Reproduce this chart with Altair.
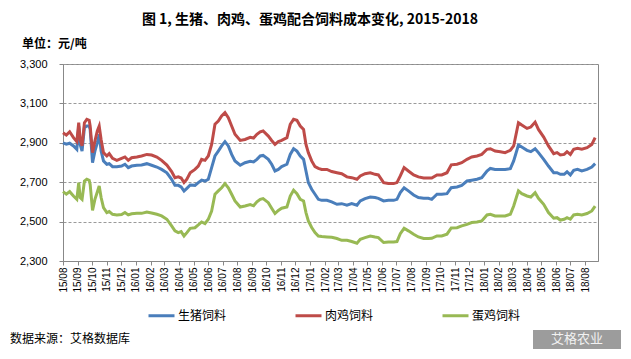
import altair as alt
import pandas as pd

title_text = "图 1, 生猪、肉鸡、蛋鸡配合饲料成本变化, 2015-2018"
unit_text = "单位：元/吨"
source_text = "数据来源：艾格数据库"
logo_text = "艾格农业"
series_names = ["生猪饲料", "肉鸡饲料", "蛋鸡饲料"]
series_colors = ["#4A7EBB", "#BE4B48", "#98B954"]
start_date = "2015-08-01"
y_ticks = [2300, 2500, 2700, 2900, 3100, 3300]

# days since 2015-08-01 (roughly weekly observations)
day_offsets = [
    0, 7, 14, 22, 29, 33, 36, 40, 45, 50,
    55, 57, 62, 67, 72, 76, 80, 85, 92, 97,
    104, 113, 123, 130, 137, 144, 155, 165, 176, 186,
    197, 207, 218, 228, 235, 242, 248, 254, 260, 267,
    277, 284, 291, 298, 305, 312, 319, 326, 333, 340,
    347, 354, 361, 372, 382, 393, 400, 407, 414, 420,
    431, 438, 445, 452, 459, 470, 477, 484, 491, 498,
    505, 510, 515, 522, 529, 536, 543, 554, 564, 575,
    585, 596, 606, 617, 624, 634, 645, 655, 662, 673,
    683, 694, 701, 708, 716, 725, 736, 746, 757, 767,
    774, 785, 795, 806, 815, 827, 837, 848, 858, 869,
    879, 890, 897, 907, 918, 928, 939, 946, 956, 963,
    974, 982, 991, 998, 1009, 1019, 1030, 1037, 1044, 1052,
    1058, 1065, 1072, 1080, 1089, 1100, 1110, 1117,
]

hog_feed = [
    2900, 2893, 2898, 2884, 2867, 2985, 2892, 2858, 2977, 2985,
    2985, 2968, 2799, 2858, 2900, 2943, 2858, 2808, 2791, 2794,
    2779, 2779, 2782, 2791, 2774, 2782, 2786, 2787, 2794, 2786,
    2777, 2765, 2748, 2715, 2684, 2684, 2676, 2655, 2669, 2686,
    2684, 2698, 2711, 2706, 2715, 2774, 2833, 2858, 2884, 2906,
    2884, 2841, 2808, 2786, 2799, 2806, 2803, 2816, 2833, 2836,
    2816, 2791, 2757, 2765, 2779, 2791, 2841, 2870, 2858, 2833,
    2816, 2757, 2698, 2664, 2639, 2613, 2608, 2608, 2600, 2588,
    2591, 2583, 2591, 2583, 2605, 2617, 2625, 2622, 2618, 2605,
    2608, 2608, 2613, 2647, 2672, 2656, 2635, 2622, 2618, 2618,
    2613, 2639, 2639, 2642, 2672, 2676, 2684, 2706, 2710, 2715,
    2723, 2757, 2770, 2765, 2765, 2765, 2769, 2808, 2889, 2879,
    2862, 2855, 2870, 2850, 2816, 2782, 2748, 2748, 2740, 2740,
    2753, 2737, 2760, 2765, 2757, 2765, 2777, 2794,
]

broiler_feed = [
    2951, 2939, 2956, 2926, 2906, 3002, 2917, 2884, 3002, 3019,
    3014, 2985, 2850, 2909, 2960, 2985, 2917, 2850, 2833, 2845,
    2821, 2811, 2821, 2828, 2811, 2824, 2828, 2833, 2841, 2838,
    2828, 2811, 2787, 2754, 2723, 2727, 2721, 2698, 2715, 2748,
    2765, 2782, 2816, 2811, 2833, 2892, 2994, 3010, 3036, 3053,
    3027, 2985, 2943, 2912, 2917, 2928, 2924, 2943, 2956, 2960,
    2934, 2912, 2892, 2906, 2912, 2926, 2994, 3019, 3014, 2985,
    2968, 2892, 2850, 2808, 2779, 2770, 2765, 2765, 2754, 2748,
    2743, 2727, 2723, 2715, 2732, 2743, 2748, 2740, 2737, 2698,
    2693, 2693, 2698, 2732, 2774, 2757, 2737, 2727, 2721, 2721,
    2721, 2737, 2737, 2748, 2788, 2791, 2799, 2816, 2828, 2833,
    2841, 2867, 2870, 2858, 2855, 2850, 2862, 2884, 3002, 2990,
    2973, 2980, 3005, 2968, 2929, 2884, 2845, 2850, 2838, 2841,
    2855, 2841, 2867, 2872, 2867, 2875, 2892, 2926,
]

layer_feed = [
    2652, 2639, 2652, 2630, 2613, 2698, 2622, 2613, 2706, 2715,
    2710, 2689, 2557, 2613, 2650, 2681, 2622, 2571, 2546, 2551,
    2537, 2534, 2536, 2546, 2534, 2540, 2542, 2542, 2549, 2544,
    2537, 2529, 2512, 2478, 2453, 2444, 2449, 2427, 2444, 2466,
    2469, 2483, 2498, 2490, 2512, 2554, 2639, 2656, 2672, 2693,
    2672, 2639, 2605, 2574, 2579, 2586, 2580, 2600, 2613, 2617,
    2596, 2568, 2541, 2557, 2568, 2574, 2630, 2659, 2642, 2613,
    2605, 2546, 2503, 2470, 2444, 2427, 2424, 2422, 2420, 2414,
    2405, 2405, 2399, 2390, 2410, 2419, 2427, 2422, 2419, 2394,
    2397, 2397, 2399, 2439, 2466, 2453, 2436, 2422, 2414, 2414,
    2415, 2427, 2427, 2436, 2468, 2469, 2478, 2486, 2495, 2498,
    2503, 2534, 2537, 2529, 2529, 2529, 2537, 2579, 2656, 2642,
    2630, 2625, 2647, 2618, 2588, 2546, 2517, 2520, 2508, 2512,
    2520, 2512, 2534, 2537, 2534, 2541, 2554, 2579,
]

dates = pd.Timestamp(start_date) + pd.to_timedelta(day_offsets, unit="D")
frames = []
for name, vals in zip(series_names, [hog_feed, broiler_feed, layer_feed]):
    frames.append(pd.DataFrame({"date": dates, "value": vals, "series": name}))
df = pd.concat(frames, ignore_index=True)

CJK = "Noto Sans CJK SC"
LAT = "Liberation Sans"

lines = alt.Chart(df).mark_line(strokeWidth=3).encode(
    x=alt.X(
        "date:T",
        scale=alt.Scale(domain=[alt.DateTime(year=2015, month=8, date=1),
                                alt.DateTime(year=2018, month=8, date=28)]),
        axis=alt.Axis(
            title=None, format="%y/%m",
            tickCount=alt.TimeIntervalStep(interval="month", step=1),
            labelAngle=270, labelOverlap=False, grid=False,
            domainColor="#888888", tickColor="#888888", tickSize=4,
            labelFontSize=10, labelFont=LAT, labelColor="#000000", labelPadding=2,
        ),
    ),
    y=alt.Y(
        "value:Q",
        scale=alt.Scale(domain=[2300, 3300], nice=False, zero=False),
        axis=alt.Axis(
            title=None, values=y_ticks, format=",d", grid=True,
            gridDash=[3, 2], gridColor="#9a9a9a", gridWidth=1,
            domainColor="#888888", tickColor="#888888", tickSize=4,
            labelFontSize=11, labelFont=LAT, labelColor="#000000", labelPadding=12,
        ),
    ),
    color=alt.Color(
        "series:N",
        scale=alt.Scale(domain=series_names, range=series_colors),
        legend=alt.Legend(
            title=None, orient="none", legendX=84, legendY=237,
            direction="horizontal", symbolType="stroke", symbolStrokeWidth=3,
            symbolSize=676, labelFontSize=12, labelFont=CJK, labelColor="#000000",
            labelOffset=2, columnPadding=62,
        ),
    ),
)

def text_layer(txt, x, y, size, weight="normal", align="left", color="#000000", font=CJK):
    return alt.Chart(pd.DataFrame({"t": [txt]})).mark_text(
        align=align, baseline="middle", fontSize=size, fontWeight=weight,
        font=font, color=color,
    ).encode(text="t:N", x=alt.value(x), y=alt.value(y))

title = text_layer(title_text, 247, -44, 14, weight="bold", align="center")
unit = text_layer(unit_text, -41, -20, 12, weight="bold")
source = text_layer(source_text, -53, 275, 12)

logo_box = alt.Chart(pd.DataFrame({"t": [logo_text]})).mark_rect(color="#9c9c9c").encode(
    x=alt.value(470), x2=alt.value(558), y=alt.value(266), y2=alt.value(285)
)
logo = text_layer(logo_text, 514, 275, 13, align="center", color="#f2f2f2")

chart = alt.layer(lines, title, unit, source, logo_box, logo).properties(
    width=535, height=197,
    padding={"left": 55, "top": 56, "right": 25, "bottom": 88},
    autosize=alt.AutoSizeParams(type="none"),
).configure_view(stroke="#888888", strokeWidth=1)

chart.save("out.html", embed_options={"renderer": "svg", "actions": False})
